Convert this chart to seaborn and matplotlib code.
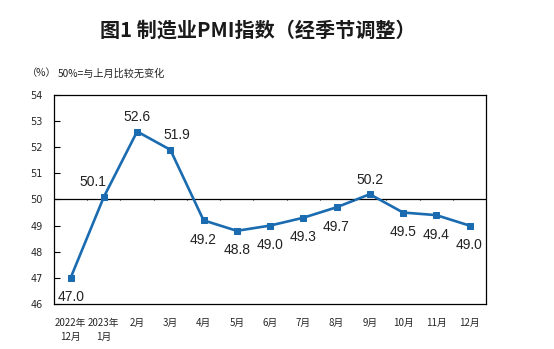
import matplotlib
matplotlib.use("Agg")
import matplotlib.pyplot as plt
import seaborn as sns
import pandas as pd

months = ["2022年\n12月", "2023年\n1月", "2月", "3月", "4月", "5月", "6月",
          "7月", "8月", "9月", "10月", "11月", "12月"]
pmi = [47.0, 50.1, 52.6, 51.9, 49.2, 48.8, 49.0, 49.3, 49.7, 50.2, 49.5, 49.4, 49.0]
label_above = [False, True, True, True, False, False, False, False, False, True, False, False, False]
yticks = [46, 47, 48, 49, 50, 51, 52, 53, 54]

sns.set_theme(style="white")
plt.rcParams['font.family'] = ['Noto Sans CJK SC', 'DejaVu Sans']

df = pd.DataFrame({"idx": range(len(months)), "pmi": pmi})

fig = plt.figure(figsize=(5.54, 3.49), dpi=100)
ax = fig.add_axes([0.0975, 0.129, 0.78, 0.599])

color = "#1a6bb0"
sns.lineplot(data=df, x="idx", y="pmi", ax=ax, color=color, linewidth=1.9,
             marker="s", markersize=5, markeredgecolor=color, markerfacecolor=color)

ax.set_xlim(-0.5, len(months) - 0.5)
ax.set_ylim(46, 54)
ax.set_yticks(yticks)
ax.set_yticklabels([str(v) for v in yticks], fontsize=7, family=['Liberation Sans Narrow', 'DejaVu Sans'])
ax.set_xticks(range(len(months)))
ax.set_xticklabels(months, fontsize=7, linespacing=1.45)
ax.tick_params(axis='x', length=0, pad=10)
ax.tick_params(axis='y', direction='in', length=4, width=0.8, color='black', left=True, pad=8)
ax.set_xlabel("")
ax.set_ylabel("")

for s in ax.spines.values():
    s.set_color("black")
    s.set_linewidth(0.9)

# reference line at 50 with category tick marks
ax.axhline(50, color="black", linewidth=0.9, zorder=1)
ax.vlines([i + 0.5 for i in range(len(months) - 1)], 49.96, 50.0, color="black", linewidth=0.8)

x_shift = {1: -8, 3: 5}
for i, (v, up) in enumerate(zip(pmi, label_above)):
    ax.annotate(f"{v:.1f}", (i, v), xytext=(x_shift.get(i, 0), 10.5 if up else -14),
                textcoords="offset points", ha="center", va="center", fontsize=10,
                family=['Liberation Sans', 'DejaVu Sans'], color="#222222")

fig.text(0.465, 0.915, "图1 制造业PMI指数（经季节调整）", ha="center", va="center",
         fontsize=14.5, fontweight="bold", color="#1a1a1a")
fig.text(0.048, 0.79, "（%）", ha="left", va="center", fontsize=7.3, color="#222222")
fig.text(0.105, 0.79, "50%=与上月比较无变化", ha="left", va="center", fontsize=7.3, color="#222222")

fig.savefig("out.png", dpi=100)
